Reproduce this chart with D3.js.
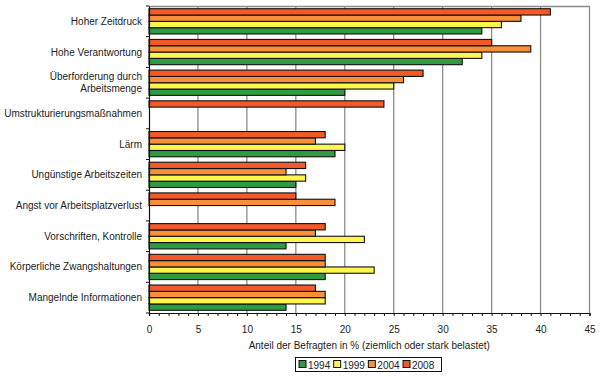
<!DOCTYPE html>
<html>
<head>
<meta charset="utf-8">
<script src="https://cdn.jsdelivr.net/npm/d3@7"></script>
<style>
html,body{margin:0;padding:0;background:#fff;}
text{font-family:"Liberation Sans",Arial,sans-serif;fill:#222;}
</style>
</head>
<body>
<svg id="chart" width="600" height="380"></svg>
<script>
const categories = [
  "Hoher Zeitdruck",
  "Hohe Verantwortung",
  "Überforderung durch|Arbeitsmenge",
  "Umstrukturierungsmaßnahmen",
  "Lärm",
  "Ungünstige Arbeitszeiten",
  "Angst vor Arbeitsplatzverlust",
  "Vorschriften, Kontrolle",
  "Körperliche Zwangshaltungen",
  "Mangelnde Informationen"
];
const years = ["1994", "1999", "2004", "2008"];
const values1994 = [34, 32, 20, null, 19, 15, null, 14, 18, 14];
const values1999 = [36, 34, 25, null, 20, 16, null, 22, 23, 18];
const values2004 = [38, 39, 26, null, 17, 14, 19, 17, 18, 18];
const values2008 = [41, 35, 28, 24, 18, 16, 15, 18, 18, 17];
const xTicks = [0, 5, 10, 15, 20, 25, 30, 35, 40, 45];
const axisTitle = "Anteil der Befragten in % (ziemlich oder stark belastet)";

const seriesValues = {"1994": values1994, "1999": values1999, "2004": values2004, "2008": values2008};
const colors = {"1994": "#2f9a44", "1999": "#fff54f", "2004": "#f78f3b", "2008": "#f25a2a"};

const svg = d3.select("#chart");
const pL = 149, pR = 589.5, pT = 6, pB = 313;

const x = d3.scaleLinear().domain([0, 45]).range([pL, pR]);
const y = d3.scaleBand().domain(categories).range([pT, pB]).padding(0);
const yInner = d3.scaleBand().domain(["2008", "2004", "1999", "1994"])
  .range([0, y.bandwidth()]).paddingInner(0).paddingOuter(0.43);

// gridlines
svg.append("g").selectAll("line").data(xTicks.slice(1)).join("line")
  .attr("x1", d => x(d)).attr("x2", d => x(d))
  .attr("y1", pT).attr("y2", pB)
  .attr("stroke", "#8c8c8c").attr("stroke-width", 1.3);
// top border
svg.append("line").attr("x1", pL).attr("x2", pR).attr("y1", pT + 0.5).attr("y2", pT + 0.5)
  .attr("stroke", "#8c8c8c").attr("stroke-width", 1.3);

// bars
const bars = [];
categories.forEach((c, i) => {
  years.forEach(yr => {
    const v = seriesValues[yr][i];
    if (v != null) bars.push({c, yr, v});
  });
});
svg.append("g").selectAll("rect").data(bars).join("rect")
  .attr("x", x(0))
  .attr("y", d => y(d.c) + yInner(d.yr))
  .attr("width", d => x(d.v) - x(0))
  .attr("height", yInner.bandwidth())
  .attr("fill", d => colors[d.yr])
  .attr("stroke", "#111").attr("stroke-width", 1.1);

// x axis
const xAxis = d3.axisBottom(x).tickValues(d3.range(0, 46, 1)).tickSize(3).tickFormat("");
const gx = svg.append("g").attr("transform", `translate(0,${pB})`).call(xAxis);
gx.select(".domain").attr("stroke", "#111").attr("stroke-width", 1.2);
gx.selectAll(".tick line").attr("stroke", "#111");
const gxl = svg.append("g").attr("transform", `translate(0,${pB})`)
  .call(d3.axisBottom(x).tickValues(xTicks).tickSize(0).tickPadding(13));
gxl.select(".domain").remove();
gxl.selectAll("text").attr("font-size", 10).attr("font-family", "Liberation Sans, Arial, sans-serif").attr("fill", "#222");

// y axis
const yAxis = d3.axisLeft(y).tickSize(0).tickFormat("");
const gy = svg.append("g").attr("transform", `translate(${pL},0)`).call(yAxis);
gy.select(".domain").attr("stroke", "#111").attr("stroke-width", 1.2);
// category boundary ticks
const bounds = categories.map(c => y(c)).concat([pB]);
svg.append("g").selectAll("line").data(bounds).join("line")
  .attr("x1", pL - 3).attr("x2", pL)
  .attr("y1", d => d).attr("y2", d => d)
  .attr("stroke", "#111");

// category labels
const lab = svg.append("g").selectAll("text").data(categories).join("text")
  .attr("x", pL - 7)
  .attr("y", d => y(d) + y.bandwidth() / 2)
  .attr("text-anchor", "end")
  .attr("font-size", 10);
lab.each(function(d) {
  const parts = d.split("|");
  const t = d3.select(this);
  parts.forEach((p, k) => {
    t.append("tspan").attr("x", pL - 7)
      .attr("dy", k === 0 ? (parts.length === 1 ? "0.35em" : (-(parts.length - 1) * 0.6 + 0.35) + "em") : "1.2em")
      .text(p);
  });
});

// axis title
svg.append("text").attr("x", (pL + pR) / 2).attr("y", 349)
  .attr("text-anchor", "middle").attr("font-size", 10).text(axisTitle);

// legend
const lg = svg.append("g").attr("transform", "translate(295,357)");
lg.append("rect").attr("x", 0.5).attr("y", 0.5).attr("width", 146).attr("height", 14)
  .attr("fill", "#fff").attr("stroke", "#111").attr("stroke-width", 1);
const itemX = d3.scalePoint().domain(years).range([4, 108]);
const it = lg.selectAll("g.it").data(years).join("g").attr("class", "it")
  .attr("transform", d => `translate(${itemX(d)},0)`);
it.append("rect").attr("x", 0).attr("y", 3.5).attr("width", 7).attr("height", 7)
  .attr("fill", d => colors[d]).attr("stroke", "#111").attr("stroke-width", 1);
it.append("text").attr("x", 9).attr("y", 11.5).attr("font-size", 10).text(d => d);
</script>
</body>
</html>
